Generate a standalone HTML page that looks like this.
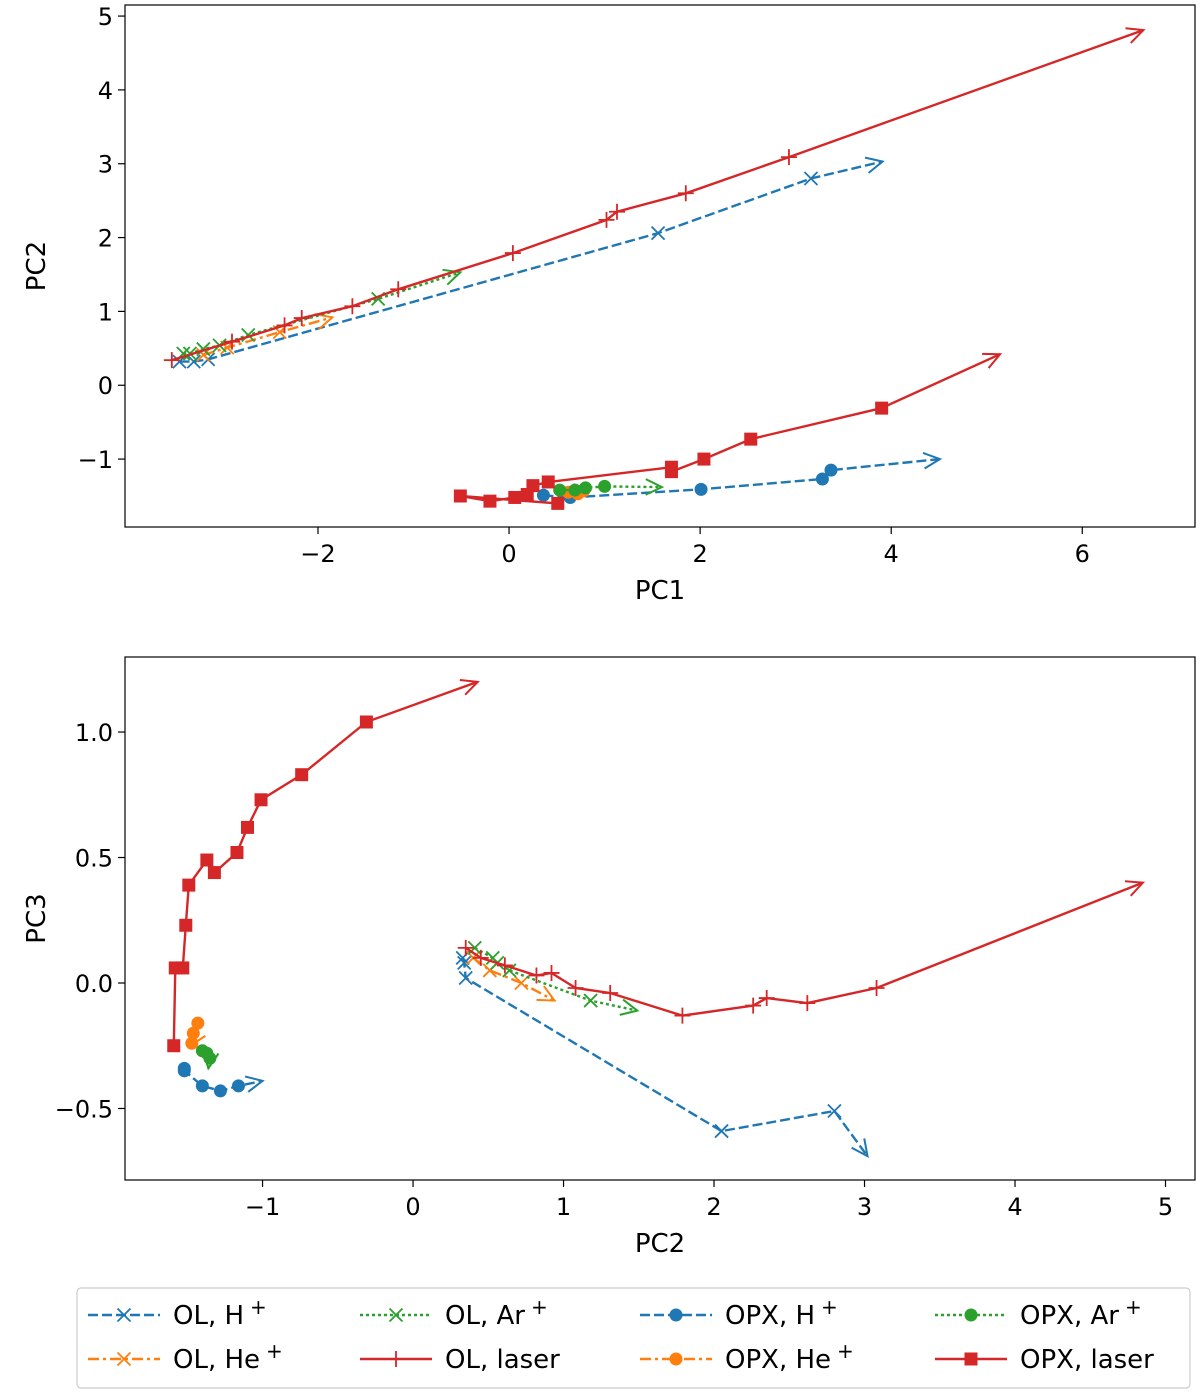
<!DOCTYPE html>
<html><head><meta charset="utf-8"><style>
body{margin:0;background:#fff;font-family:"Liberation Sans","DejaVu Sans",sans-serif}
svg text{font-family:"DejaVu Sans","Liberation Sans",sans-serif}
</style></head><body>
<svg id="chart" width="1200" height="1393" viewBox="0 0 1200 1393" xmlns="http://www.w3.org/2000/svg"></svg>
<script>
// ---- data: top panel (PC1 vs PC2) ----
const topOLH_x=[-3.45,-3.3,-3.15,1.56,3.16,3.91];
const topOLH_y=[0.32,0.32,0.35,2.06,2.80,3.03];
const topOLHe_x=[-3.2,-2.95,-2.40,-1.85];
const topOLHe_y=[0.41,0.51,0.72,0.92];
const topOLAr_x=[-3.41,-3.34,-3.20,-3.03,-2.73,-1.37,-0.51];
const topOLAr_y=[0.43,0.43,0.49,0.54,0.68,1.17,1.53];
const topOLL_x=[-3.53,-2.90,-2.35,-2.17,-1.64,-1.16,0.04,1.02,1.13,1.85,2.93,6.64];
const topOLL_y=[0.34,0.59,0.81,0.91,1.07,1.30,1.79,2.24,2.35,2.60,3.09,4.81];
const topOPXH_x=[0.36,0.64,2.01,3.28,3.37,4.51];
const topOPXH_y=[-1.49,-1.52,-1.41,-1.27,-1.15,-1.00];
const topOPXHe_x=[0.62,0.72,0.78,0.85];
const topOPXHe_y=[-1.45,-1.47,-1.43,-1.42];
const topOPXAr_x=[0.53,0.69,0.8,1.0,1.6];
const topOPXAr_y=[-1.42,-1.42,-1.39,-1.37,-1.38];
const topOPXL_x=[0.51,-0.51,-0.20,0.06,0.19,0.25,0.41,1.70,1.70,2.04,2.53,3.90,5.14];
const topOPXL_y=[-1.60,-1.50,-1.57,-1.52,-1.48,-1.36,-1.31,-1.11,-1.17,-1.00,-0.73,-0.31,0.42];
// ---- data: bottom panel (PC2 vs PC3) ----
const botOLH_x=[0.33,0.34,0.35,2.05,2.80,3.02];
const botOLH_y=[0.10,0.08,0.02,-0.59,-0.51,-0.69];
const botOLHe_x=[0.40,0.51,0.72,0.94];
const botOLHe_y=[0.10,0.05,0.00,-0.07];
const botOLAr_x=[0.41,0.53,0.56,0.64,1.18,1.49];
const botOLAr_y=[0.14,0.10,0.08,0.05,-0.07,-0.11];
const botOLL_x=[0.35,0.45,0.61,0.82,0.92,1.08,1.31,1.79,2.26,2.35,2.62,3.08,4.85];
const botOLL_y=[0.14,0.10,0.07,0.03,0.04,-0.02,-0.04,-0.13,-0.09,-0.06,-0.08,-0.02,0.40];
const botOPXH_x=[-1.52,-1.52,-1.40,-1.28,-1.16,-1.00];
const botOPXH_y=[-0.34,-0.35,-0.41,-0.43,-0.41,-0.39];
const botOPXHe_x=[-1.43,-1.46,-1.47,-1.48];
const botOPXHe_y=[-0.16,-0.20,-0.24,-0.25];
const botOPXAr_x=[-1.40,-1.37,-1.35,-1.36];
const botOPXAr_y=[-0.27,-0.28,-0.30,-0.34];
const botOPXL_x=[-1.59,-1.58,-1.53,-1.51,-1.49,-1.37,-1.32,-1.17,-1.10,-1.01,-0.74,-0.31,0.43];
const botOPXL_y=[-0.25,0.06,0.06,0.23,0.39,0.49,0.44,0.52,0.62,0.73,0.83,1.04,1.20];
const topXTicks=[-2,0,2,4,6];
const topYTicks=[-1,0,1,2,3,4,5];
const botXTicks=[-1,0,1,2,3,4,5];
const botYTicks=[-0.5,0.0,0.5,1.0];
const legendLabels=["OL, H","OL, He","OL, Ar","OL, laser","OPX, H","OPX, He","OPX, Ar","OPX, laser"];
const legendSup=["+","+","+","","+","+","+",""];

const NS="http://www.w3.org/2000/svg";
const svg=document.getElementById('chart');
function mk(tag,attrs,parent){const e=document.createElementNS(NS,tag);for(const k in attrs)e.setAttribute(k,attrs[k]);(parent||svg).appendChild(e);return e;}
const C={b:"#1f77b4",o:"#ff7f0e",g:"#2ca02c",r:"#d62728"};
const DASH={b:"10,4",o:"11,4,3,4",g:"3,3",r:"none"};

function marker(g,type,x,y,col){
  if(type==='x'){mk('path',{d:`M${x-6.5},${y-6.5}L${x+6.5},${y+6.5}M${x-6.5},${y+6.5}L${x+6.5},${y-6.5}`,stroke:col,'stroke-width':1.8},g);}
  else if(type==='+'){mk('path',{d:`M${x-8},${y}L${x+8},${y}M${x},${y-8}L${x},${y+8}`,stroke:col,'stroke-width':1.8},g);}
  else if(type==='o'){mk('circle',{cx:x,cy:y,r:6.5,fill:col},g);}
  else if(type==='s'){mk('rect',{x:x-6.5,y:y-6.5,width:13,height:13,fill:col},g);}
}
function arrow(g,x0,y0,x1,y1,col){
  const a=Math.atan2(y1-y0,x1-x0),L=18,w=0.45;
  const p1=[x1-L*Math.cos(a-w),y1-L*Math.sin(a-w)],p2=[x1-L*Math.cos(a+w),y1-L*Math.sin(a+w)];
  mk('path',{d:`M${p1[0]},${p1[1]}L${x1},${y1}L${p2[0]},${p2[1]}`,stroke:col,'stroke-width':2,fill:'none'},g);
}
function series(ax,xs,ys,col,mtype,name){
  const g=mk('g',{});
  
  
  const pts=xs.map((v,i)=>[ax.X(v),ax.Y(ys[i])]);
  const d=pts.map((p,i)=>(i?'L':'M')+p[0].toFixed(1)+','+p[1].toFixed(1)).join('');
  mk('path',{d:d,stroke:C[col],'stroke-width':2.4,fill:'none','stroke-dasharray':DASH[col]},g);
  const n=pts.length;
  arrow(g,pts[n-2][0],pts[n-2][1],pts[n-1][0],pts[n-1][1],C[col]);
  for(let i=0;i<n-1;i++)marker(g,mtype,pts[i][0],pts[i][1],C[col]);
}
function axes(box,xr,yr,xt,yt,xlab,ylab,fx,fy,name){
  const ax={X:v=>box.l+(v-xr[0])/(xr[1]-xr[0])*(box.r-box.l),Y:v=>box.b-(v-yr[0])/(yr[1]-yr[0])*(box.b-box.t)};
  const g=mk('g',{});
  
  
  xt.forEach(v=>{const x=ax.X(v);mk('line',{x1:x,x2:x,y1:box.b,y2:box.b+7,stroke:'#000','stroke-width':1.2},g);
    const t=mk('text',{x:x,y:box.b+35,'font-size':24,'text-anchor':'middle'},g);t.textContent=fx(v);});
  yt.forEach(v=>{const y=ax.Y(v);mk('line',{x1:box.l-7,x2:box.l,y1:y,y2:y,stroke:'#000','stroke-width':1.2},g);
    const t=mk('text',{x:box.l-12,y:y+9,'font-size':24,'text-anchor':'end'},g);t.textContent=fy(v);});
  const xl=mk('text',{x:(box.l+box.r)/2,y:box.b+72,'font-size':26,'text-anchor':'middle'});xl.textContent=xlab;
  
  const yx=box.l-80,yy=(box.t+box.b)/2;
  const yl=mk('text',{x:yx,y:yy,'font-size':26,'text-anchor':'middle',transform:`rotate(-90 ${yx} ${yy})`});yl.textContent=ylab;
  
  ax.frame=()=>{const f=mk('rect',{x:box.l,y:box.t,width:box.r-box.l,height:box.b-box.t,fill:'none',stroke:'#000','stroke-width':1.2});
    };
  return ax;
}
const mf=v=>(v<0?'\u2212':'')+Math.abs(v);
const mf1=v=>(v<0?'\u2212':'')+Math.abs(v).toFixed(1);
const A=axes({l:125,r:1195,t:5,b:527},[-4.02,7.18],[-1.92,5.15],topXTicks,topYTicks,'PC1','PC2',mf,mf,'top-panel');
series(A,topOLH_x,topOLH_y,'b','x','top-ol-h');
series(A,topOLHe_x,topOLHe_y,'o','x','top-ol-he');
series(A,topOLAr_x,topOLAr_y,'g','x','top-ol-ar');
series(A,topOLL_x,topOLL_y,'r','+','top-ol-laser');
series(A,topOPXH_x,topOPXH_y,'b','o','top-opx-h');
series(A,topOPXHe_x,topOPXHe_y,'o','o','top-opx-he');
series(A,topOPXAr_x,topOPXAr_y,'g','o','top-opx-ar');
series(A,topOPXL_x,topOPXL_y,'r','s','top-opx-laser');
A.frame();
const B=axes({l:125,r:1195,t:657,b:1180},[-1.914,5.196],[-0.785,1.299],botXTicks,botYTicks,'PC2','PC3',mf,mf1,'bottom-panel');
series(B,botOLH_x,botOLH_y,'b','x','bottom-ol-h');
series(B,botOLHe_x,botOLHe_y,'o','x','bottom-ol-he');
series(B,botOLAr_x,botOLAr_y,'g','x','bottom-ol-ar');
series(B,botOLL_x,botOLL_y,'r','+','bottom-ol-laser');
series(B,botOPXH_x,botOPXH_y,'b','o','bottom-opx-h');
series(B,botOPXHe_x,botOPXHe_y,'o','o','bottom-opx-he');
series(B,botOPXAr_x,botOPXAr_y,'g','o','bottom-opx-ar');
series(B,botOPXL_x,botOPXL_y,'r','s','bottom-opx-laser');
B.frame();

// legend
const lg=mk('g',{});


mk('rect',{x:77,y:1288,width:1113,height:100,rx:4,fill:'#fff',stroke:'#ccc','stroke-width':1.2},lg);
const cols=[88,360,640,935],rows=[1315,1359];
const spec=[['b','x'],['o','x'],['g','x'],['r','+'],['b','o'],['o','o'],['g','o'],['r','s']];
legendLabels.forEach((lab,i)=>{
  const cx=cols[Math.floor(i/2)],cy=rows[i%2];
  const e=mk('g',{},lg);
  
  
  const [c,m]=spec[i];
  mk('line',{x1:cx,x2:cx+72,y1:cy,y2:cy,stroke:C[c],'stroke-width':2.4,'stroke-dasharray':DASH[c]},e);
  marker(e,m,cx+36,cy,C[c]);
  const t=mk('text',{x:cx+85,y:cy+9,'font-size':26},e);t.textContent=lab;
  if(legendSup[i]){const s=mk('tspan',{dx:6,dy:-10,'font-size':20},t);s.textContent=legendSup[i];}
});
</script>
</body></html>
